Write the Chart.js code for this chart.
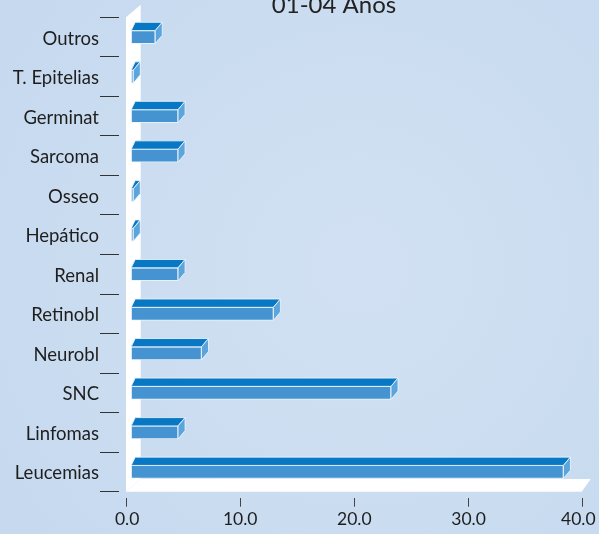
<!DOCTYPE html>
<html>
<head>
<meta charset="utf-8">
<script src="https://cdn.jsdelivr.net/npm/chart.js@4"></script>
<style>
html,body{margin:0;padding:0;background:#C9DBF0;}
canvas{display:block;}
</style>
</head>
<body>
<canvas id="c" width="599" height="534"></canvas>
<script>
const titleText = '01-04 Anos';
const categories = ['Outros','T. Epitelias','Germinat','Sarcoma','Osseo','Hepático','Renal','Retinobl','Neurobl','SNC','Linfomas','Leucemias'];
const values = [2.15, 0.23, 4.15, 4.15, 0.23, 0.23, 4.15, 12.5, 6.2, 22.8, 4.15, 37.9];
const xTickValues = [0, 10, 20, 30, 40];

const FRONT = '#4594D1';
const TOP = '#0877C4';
const SIDE = '#5CA4DC';
const EDGE = 'rgba(235,244,252,0.85)';
const OFF_X = 4.7;      // bar front face depth shift
const DY = 8.3;         // bar depth (vertical)
const DXL = 4, DXR = 7; // bar depth (horizontal, left/right ends)

const scene = {
  id: 'scene',
  beforeDraw(chart) {
    const {ctx, width, height} = chart;
    ctx.save();
    const g = ctx.createRadialGradient(width*0.6, height*0.5, 20, width*0.6, height*0.5, width*0.8);
    g.addColorStop(0, '#D1E1F3');
    g.addColorStop(1, '#C5D8EE');
    ctx.fillStyle = g;
    ctx.fillRect(0, 0, width, height);
    ctx.restore();
  },
  beforeDatasetsDraw(chart) {
    const {ctx, chartArea: a} = chart;
    ctx.save();
    ctx.fillStyle = '#FFFFFF';
    // left wall
    ctx.beginPath();
    ctx.moveTo(a.left, a.top);
    ctx.lineTo(a.left + 14.7, a.top - 12.5);
    ctx.lineTo(a.left + 14.7, a.bottom - 12.7);
    ctx.lineTo(a.left, a.bottom);
    ctx.closePath();
    ctx.fill();
    // floor
    ctx.beginPath();
    ctx.moveTo(a.left, a.bottom);
    ctx.lineTo(a.right - 1, a.bottom);
    ctx.lineTo(a.right + 8, a.bottom - 12.7);
    ctx.lineTo(a.left + 14.7, a.bottom - 12.7);
    ctx.closePath();
    ctx.fill();
    ctx.restore();
    ctx.save();
    ctx.translate(OFF_X, 0);
  },
  afterDatasetsDraw(chart) {
    const {ctx} = chart;
    ctx.restore();
    const meta = chart.getDatasetMeta(0);
    ctx.save();
    ctx.lineWidth = 1;
    ctx.strokeStyle = EDGE;
    meta.data.forEach(bar => {
      const p = bar.getProps(['x', 'y', 'base', 'height'], true);
      const l = p.base + OFF_X, r = p.x + OFF_X;
      const t = p.y - p.height / 2, b = p.y + p.height / 2;
      // top face
      ctx.beginPath();
      ctx.moveTo(l, t);
      ctx.lineTo(r, t);
      ctx.lineTo(r + DXR, t - DY);
      ctx.lineTo(l + DXL, t - DY);
      ctx.closePath();
      ctx.fillStyle = TOP;
      ctx.fill();
      ctx.stroke();
      // side face
      ctx.beginPath();
      ctx.moveTo(r, t);
      ctx.lineTo(r + DXR, t - DY);
      ctx.lineTo(r + DXR, b - DY);
      ctx.lineTo(r, b);
      ctx.closePath();
      ctx.fillStyle = SIDE;
      ctx.fill();
      ctx.stroke();
    });
    ctx.restore();
  },
  afterDraw(chart) {
    const {ctx} = chart;
    ctx.save();
    ctx.font = '24px Lato';
    ctx.fillStyle = '#222222';
    ctx.textAlign = 'center';
    ctx.textBaseline = 'alphabetic';
    ctx.fillText(titleText, 334, 12.5);
    ctx.restore();
  }
};

new Chart(document.getElementById('c'), {
  type: 'bar',
  data: {
    labels: categories,
    datasets: [{
      data: values,
      backgroundColor: FRONT,
      borderColor: EDGE,
      borderWidth: 1,
      borderSkipped: false,
      barThickness: 13
    }]
  },
  options: {
    indexAxis: 'y',
    responsive: false,
    animation: false,
    devicePixelRatio: 1,
    layout: {padding: {top: 17.3, right: 16.3, bottom: 0, left: 0}},
    plugins: {legend: {display: false}, tooltip: {enabled: false}, title: {display: false}},
    scales: {
      x: {
        type: 'linear',
        min: 0,
        max: 40,
        afterBuildTicks(s) { s.ticks = xTickValues.map(v => ({value: v})); },
        afterFit(s) { s.height = 42.3; s.paddingRight = 16.3; s.paddingLeft = 0; },
        ticks: {
          callback: (v, i, arr) => (i === 0 ? '\u2009' : '') + Number(v).toFixed(1) + (i === arr.length - 1 ? '\u2002' : ''),
          font: {family: 'Lato', size: 17.5},
          color: '#1E1E1E',
          padding: 2.5,
          maxRotation: 0
        },
        grid: {
          drawOnChartArea: false,
          drawTicks: true,
          tickLength: 15,
          tickBorderDash: [0, 6, 9, 100],
          tickColor: '#444444',
          tickWidth: 1
        },
        border: {display: false}
      },
      y: {
        type: 'category',
        afterFit(s) { s.width = 126; },
        ticks: {
          font: {family: 'Lato', size: 18.5},
          color: '#1E1E1E',
          padding: 1,
          labelOffset: 1.5
        },
        grid: {
          offset: true,
          drawOnChartArea: false,
          drawTicks: true,
          tickLength: 26,
          tickBorderDash: [19, 100],
          tickColor: '#333333',
          tickWidth: 1
        },
        border: {display: false}
      }
    }
  },
  plugins: [scene]
});
</script>
</body>
</html>
